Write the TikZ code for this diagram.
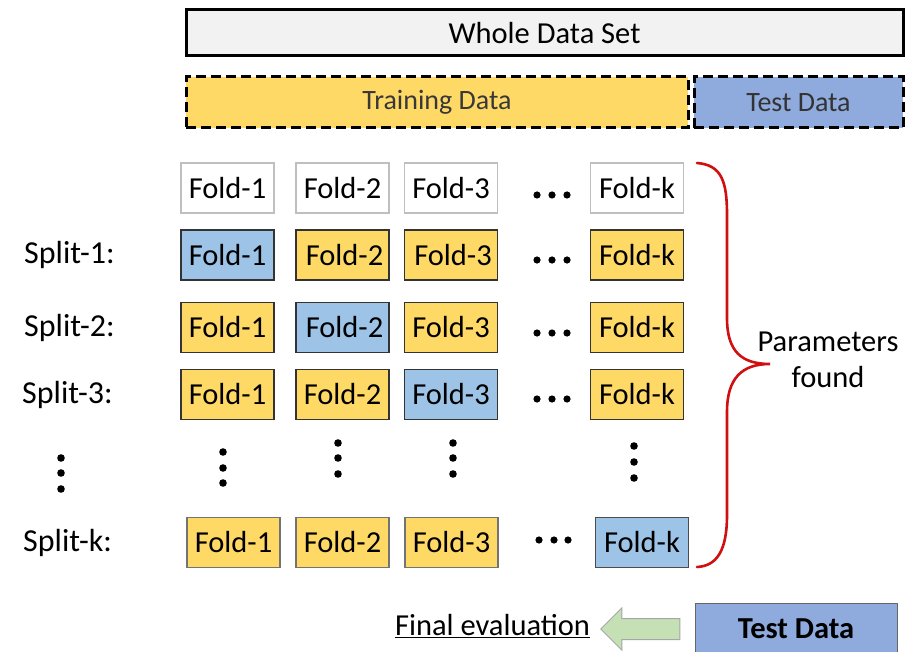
\documentclass[tikz,border=0pt]{standalone}
\usepackage{fontspec}
\setmainfont{Carlito}
\usetikzlibrary{shapes.arrows}
\definecolor{yel}{HTML}{FFD966}
\definecolor{blu}{HTML}{9DC3E6}
\definecolor{tblu}{HTML}{8FAADC}
\definecolor{lgray}{HTML}{F2F2F2}
\definecolor{bred}{HTML}{D01010}
\definecolor{agreen}{HTML}{C5E0B4}
\tikzset{
  txt/.style={font=\fontsize{30.5}{36}\selectfont},
  box/.style={draw=black!80, line width=1.6pt, inner sep=0pt, minimum width=93pt, minimum height=50pt, txt},
  hdr/.style={box, draw=black!25, fill=white},
  trn/.style={box, fill=yel},
  tst/.style={box, fill=blu},
  bar/.style={inner sep=0pt, line width=3pt, font=\fontsize{28}{34}\selectfont},
  dsh/.style={bar, dash pattern=on 10pt off 5pt},
  dot/.style={fill=black, draw=none},
  split/.style={anchor=west, inner sep=0pt, font=\fontsize{32}{38}\selectfont},
}
\begin{document}
\begin{tikzpicture}[x=1pt,y=-1pt]
\useasboundingbox[fill=white] (0,0) rectangle (920,652);
% top bars
\node[bar, draw=black, fill=lgray, minimum width=717pt, minimum height=46pt, font=\fontsize{30.5}{36}\selectfont] (whole) at (544.5,33) {Whole Data Set};
\node[dsh, draw=black, fill=yel, minimum width=502pt, minimum height=51pt, text=black!78] (train) at (437,102.5) {Training Data};
\node[dsh, draw=black, fill=tblu, minimum width=209pt, minimum height=51pt, text=black!80] (test) at (798.5,102.5) {Test Data};
% header row
\node[hdr] (h1) at (227.5,188) {Fold-1};
\node[hdr] (h2) at (342.5,188) {Fold-2};
\node[hdr] (h3) at (451,188) {Fold-3};
\node[hdr] (hk) at (637,188) {Fold-k};
% split 1
\node[split] (s1) at (24,255) {Split-1:};
\node[tst] (a1) at (227.5,255) {Fold-1};
\node[trn] (a2) at (342.5,255) {\hspace{4pt}Fold-2};
\node[trn] (a3) at (451,255) {\hspace{4pt}Fold-3};
\node[trn] (ak) at (637,255) {Fold-k};
% split 2
\node[split] (s2) at (24,327.5) {Split-2:};
\node[trn] (b1) at (227.5,327.5) {Fold-1};
\node[tst] (b2) at (342.5,327.5) {\hspace{4pt}Fold-2};
\node[trn] (b3) at (451,327.5) {Fold-3};
\node[trn] (bk) at (637,327.5) {Fold-k};
% split 3
\node[split] (s3) at (22,394.5) {Split-3:};
\node[trn] (c1) at (227.5,394.5) {Fold-1};
\node[trn] (c2) at (342.5,394.5) {Fold-2};
\node[tst] (c3) at (451,394.5) {Fold-3};
\node[trn] (ck) at (637,394.5) {Fold-k};
% split k
\node[split] (sk) at (23,543) {Split-k:};
\node[trn, draw=black!55] (d1) at (233.5,542.5) {Fold-1};
\node[trn, draw=black!55] (d2) at (342.5,542.5) {Fold-2};
\node[trn, draw=black!55] (d3) at (451.5,542.5) {Fold-3};
\node[tst, draw=black!70] (dk) at (642,542.5) {Fold-k};
% horizontal dots
\foreach \y in {195,260,333,399} {
  \foreach \x in {537,552,567} \fill[dot] (\x,\y) circle (3.6);
}
\foreach \x in {539,554,568} \fill[dot] (\x,540) circle (3.6);
% vertical dots
\foreach \y in {458,473,489} \fill[dot] (61,\y) circle (3.8);
\foreach \y in {452,468,483} \fill[dot] (223,\y) circle (3.8);
\foreach \y in {443,458,474} {\fill[dot] (338,\y) circle (3.8); \fill[dot] (453,\y) circle (3.8);}
\foreach \y in {446,462,478} \fill[dot] (634,\y) circle (3.8);
% brace
\coordinate (btop) at (697,163);
\coordinate (btip) at (770,364);
\coordinate (bbot) at (697,567);
\draw[bred, line width=2.6pt, line cap=round]
  (btop) .. controls (722,165) and (727,182) .. (727,215)
  -- (727,318) .. controls (727,352) and (742,364) .. (btip)
  .. controls (742,364) and (727,378) .. (727,412)
  -- (727,515) .. controls (727,552) and (716,566) .. (bbot);
\node[txt, align=center, inner sep=0pt] (param) at (828,360) {Parameters\\found};
% bottom
\node[txt, font=\fontsize{30.5}{36}\selectfont\bfseries, draw=black!60, line width=1pt, fill=tblu, minimum width=202pt, minimum height=52pt, inner sep=0pt] (ftest) at (796,629) {Test Data};
\node[txt, inner sep=0pt] (final) at (492.5,626) {\underline{Final evaluation}};
\node[single arrow, shape border rotate=180, fill=agreen, draw=black!35, line width=1pt,
  minimum width=42pt, minimum height=79pt, single arrow head extend=10.5pt, inner sep=0pt,
  text width=0pt, text height=10pt, text depth=10pt] (arr) at (645.5,629) {};
\end{tikzpicture}
\end{document}
